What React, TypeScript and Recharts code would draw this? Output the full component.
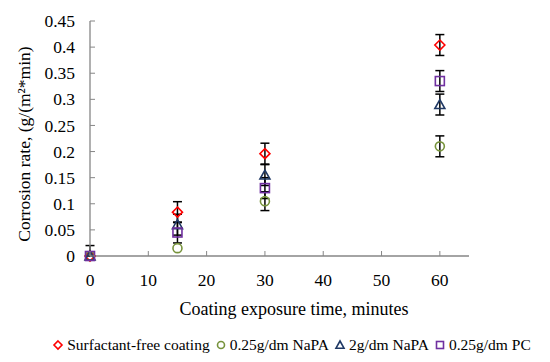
import React from 'react';
import { ScatterChart, Scatter, XAxis, YAxis, ErrorBar, Legend } from 'recharts';

const times = [0, 15, 30, 60];
const surfactantFree = [0, 0.084, 0.196, 0.404];
const surfactantFreeErr: (number | number[])[] = [[0, 0.02], 0.02, 0.02, 0.02];
const napa025 = [0, 0.015, 0.105, 0.21];
const napa025Err = [0, 0, 0.018, 0.02];
const napa2 = [0, 0.06, 0.155, 0.29];
const napa2Err = [0, 0.02, 0.02, 0.02];
const pc025 = [0, 0.045, 0.13, 0.335];
const pc025Err = [0, 0.02, 0.02, 0.02];
const xTicks = [0, 10, 20, 30, 40, 50, 60];
const yTicks = [0, 0.05, 0.1, 0.15, 0.2, 0.25, 0.3, 0.35, 0.4, 0.45];

const build = (vals: number[], errs: (number | number[])[]) =>
  times.map((t, i) => ({ x: t, y: vals[i], err: errs[i] }));

const FONT = "'Liberation Serif', 'DejaVu Serif', serif";
const AXIS = '#868686';

type Kind = 'diamond' | 'circle' | 'triangle' | 'square';

const series: { name: string; color: string; kind: Kind; data: any[] }[] = [
  { name: 'Surfactant-free coating', color: '#FF0000', kind: 'diamond', data: build(surfactantFree, surfactantFreeErr) },
  { name: '0.25g/dm NaPA', color: '#77933C', kind: 'circle', data: build(napa025, napa025Err) },
  { name: '2g/dm NaPA', color: '#1F3864', kind: 'triangle', data: build(napa2, napa2Err) },
  { name: '0.25g/dm PC', color: '#7030A0', kind: 'square', data: build(pc025, pc025Err) },
];

const Marker = ({ kind, color, cx, cy, r = 5 }: { kind: Kind; color: string; cx: number; cy: number; r?: number }) => {
  const common = { fill: 'none', stroke: color, strokeWidth: 1.6 };
  if (kind === 'diamond')
    return <polygon points={`${cx},${cy - r} ${cx + r},${cy} ${cx},${cy + r} ${cx - r},${cy}`} {...common} />;
  if (kind === 'circle') return <circle cx={cx} cy={cy} r={r - 0.5} {...common} />;
  if (kind === 'triangle')
    return <polygon points={`${cx},${cy - r} ${cx + r},${cy + r * 0.8} ${cx - r},${cy + r * 0.8}`} {...common} />;
  return <rect x={cx - r + 0.5} y={cy - r + 0.5} width={2 * r - 1} height={2 * r - 1} {...common} />;
};

const makeShape = (kind: Kind, color: string) => (props: any) => {
  if (props.cx == null || props.cy == null) return <g />;
  return <Marker kind={kind} color={color} cx={props.cx} cy={props.cy} r={5} />;
};

const fmt = (v: number) => (v === 0 ? '0' : String(Number(v.toFixed(2))));

const textStyle = (size: number): React.CSSProperties => ({ fontFamily: FONT, fontSize: size, fill: '#000' });

const YTick = (props: any) => {
  const { x, y, payload } = props;
  return (
    <g>
      <line x1={x + 15} x2={x + 20} y1={y} y2={y} stroke={AXIS} strokeWidth={1} />
      <text x={x} y={y} dy="0.35em" textAnchor="end" style={textStyle(17.5)}>
        {fmt(payload.value)}
      </text>
    </g>
  );
};

const XTick = (props: any) => {
  const { x, y, payload } = props;
  return (
    <g>
      <line x1={x} x2={x} y1={y} y2={y - 5} stroke={AXIS} strokeWidth={1} />
      <text x={x} y={y + 24} dy="0.35em" textAnchor="middle" style={textStyle(17.5)}>
        {payload.value}
      </text>
    </g>
  );
};

const XLabel = () => (
  <text x={294} y={309} dy="0.35em" textAnchor="middle" style={textStyle(18)}>
    Coating exposure time, minutes
  </text>
);

const YLabel = () => (
  <text x={24} y={144} dy="0.35em" textAnchor="middle" transform="rotate(-90 24 144)" style={textStyle(17.5)}>
    Corrosion rate, (g/(m²*min)
  </text>
);

const LegendContent = () => (
  <div
    style={{
      display: 'flex',
      justifyContent: 'center',
      alignItems: 'center',
      fontFamily: FONT,
      fontSize: 15.5,
      color: '#000',
      whiteSpace: 'nowrap',
      paddingLeft: 38,
      height: 18,
    }}
  >
    {series.map((s) => (
      <span key={s.name} style={{ display: 'inline-flex', alignItems: 'center', marginRight: 5 }}>
        <svg width={12} height={12} style={{ marginRight: 3 }}>
          <Marker kind={s.kind} color={s.color} cx={6} cy={6} r={4} />
        </svg>
        {s.name}
      </span>
    ))}
  </div>
);

export default function App() {
  return (
    <div style={{ position: 'absolute', left: 0, top: 0, width: 550, height: 362, background: '#fff' }}>
      <ScatterChart width={550} height={362} margin={{ top: 21, right: 81, bottom: 26, left: 0 }}>
        <XAxis
          type="number"
          dataKey="x"
          domain={[0, 65]}
          ticks={xTicks}
          interval={0}
          tickSize={0}
          tickMargin={0}
          tickLine={false}
          tick={<XTick />}
          axisLine={{ stroke: AXIS, strokeWidth: 1.3 }}
          height={62}
          label={<XLabel />}
        />
        <YAxis
          type="number"
          dataKey="y"
          domain={[0, 0.45]}
          ticks={yTicks}
          interval={0}
          tickSize={0}
          tickMargin={15}
          tickLine={false}
          tick={<YTick />}
          axisLine={{ stroke: AXIS, strokeWidth: 1.3 }}
          width={90}
          label={<YLabel />}
        />
        <Legend
          verticalAlign="bottom"
          align="center"
          content={<LegendContent />}
          wrapperStyle={{ width: 550, left: 0, top: 336 }}
        />
        {series.map((s) => (
          <Scatter
            key={s.name}
            name={s.name}
            data={s.data}
            fill={s.color}
            shape={makeShape(s.kind, s.color)}
            isAnimationActive={false}
          >
            <ErrorBar dataKey="err" direction="y" width={4.5} stroke="#000" strokeWidth={1.5} />
          </Scatter>
        ))}
      </ScatterChart>
    </div>
  );
}
